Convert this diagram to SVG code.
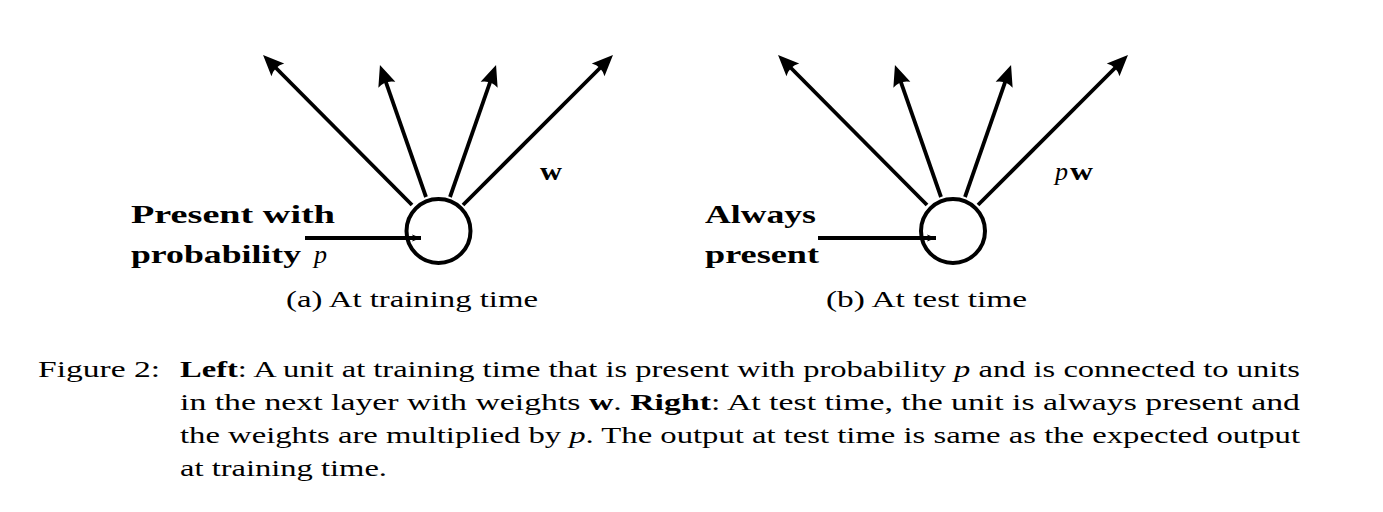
<svg xmlns="http://www.w3.org/2000/svg" width="1383" height="512" viewBox="0 0 1383 512">
  <style>
    .edge { stroke: #000; stroke-width: 3.8; fill: none; stroke-linecap: butt; }
    .inp { stroke: #000; stroke-width: 4; fill: none; }
    .unit { stroke: #000; stroke-width: 4; fill: none; }
    .t { font-family: "Liberation Serif", "DejaVu Serif", serif; fill: #000; }
    .b { font-weight: bold; }
    .i { font-style: italic; }
    .lbl { font-size: 26px; font-weight: bold; }
    .sub { font-size: 24px; }
    .cap { font-size: 24px; }
  </style>
  <defs>
    <marker id="ah" markerUnits="userSpaceOnUse" markerWidth="40" markerHeight="30" viewBox="-20 -15 40 30" refX="0" refY="0" orient="auto" overflow="visible">
      <path d="M12,0 L-9,-9 Q-4,0 -9,9 Z" fill="#000"/>
    </marker>
    <marker id="ahs" markerUnits="userSpaceOnUse" markerWidth="20" markerHeight="12" viewBox="-12 -6 20 12" refX="0" refY="0" orient="auto" overflow="visible">
      <path d="M0,0 L-9,-3.5 L-7,0 L-9,3.5 Z" fill="#000"/>
    </marker>
  </defs>

  <g id="connectors">
    <line class="edge" x1="412" y1="205" x2="271.5" y2="63.5" marker-end="url(#ah)"/>
    <line class="edge" x1="426" y1="197" x2="383.9" y2="76.3" marker-end="url(#ah)"/>
    <line class="edge" x1="450" y1="197" x2="492.1" y2="76.3" marker-end="url(#ah)"/>
    <line class="edge" x1="463" y1="205" x2="604.5" y2="63.5" marker-end="url(#ah)"/>
    <line class="inp" x1="305" y1="238" x2="421" y2="238" marker-end="url(#ahs)"/>

    <line class="edge" x1="927" y1="205" x2="786.5" y2="63.5" marker-end="url(#ah)"/>
    <line class="edge" x1="941" y1="197" x2="898.9" y2="76.3" marker-end="url(#ah)"/>
    <line class="edge" x1="965" y1="197" x2="1007.1" y2="76.3" marker-end="url(#ah)"/>
    <line class="edge" x1="978" y1="205" x2="1119.5" y2="63.5" marker-end="url(#ah)"/>
    <line class="inp" x1="818" y1="238" x2="936" y2="238" marker-end="url(#ahs)"/>
  </g>

  <g id="unit-train">
    <circle class="unit" cx="438.5" cy="231" r="32"/>
  </g>
  <g id="unit-test">
    <circle class="unit" cx="953" cy="231" r="32"/>
  </g>

  <g id="label-train">
    <text class="t lbl" x="131" y="223" textLength="204" lengthAdjust="spacingAndGlyphs">Present with</text>
    <text class="t lbl" x="131" y="263" textLength="170" lengthAdjust="spacingAndGlyphs">probability</text>
    <text class="t i" x="314" y="263" font-size="26">p</text>
    <text class="t b" x="540" y="180" font-size="26" textLength="22" lengthAdjust="spacingAndGlyphs">w</text>
    <text class="t sub" x="286" y="307" textLength="252" lengthAdjust="spacingAndGlyphs">(a) At training time</text>
  </g>

  <g id="label-test">
    <text class="t lbl" x="705" y="223" textLength="111" lengthAdjust="spacingAndGlyphs">Always</text>
    <text class="t lbl" x="705" y="263" textLength="114" lengthAdjust="spacingAndGlyphs">present</text>
    <text class="t" x="1055" y="180" font-size="26"><tspan class="i">p</tspan><tspan class="b" x="1070" textLength="23" lengthAdjust="spacingAndGlyphs">w</tspan></text>
    <text class="t sub" x="826" y="307" textLength="201" lengthAdjust="spacingAndGlyphs">(b) At test time</text>
  </g>

  <g id="caption">
    <text class="t cap" x="38" y="377" textLength="122" lengthAdjust="spacingAndGlyphs">Figure 2:</text>
    <text class="t cap" x="180" y="377" textLength="1120" lengthAdjust="spacingAndGlyphs"><tspan class="b">Left</tspan>: A unit at training time that is present with probability <tspan class="i">p</tspan> and is connected to units</text>
    <text class="t cap" x="180" y="410" textLength="1120" lengthAdjust="spacingAndGlyphs">in the next layer with weights <tspan class="b">w</tspan>. <tspan class="b">Right</tspan>: At test time, the unit is always present and</text>
    <text class="t cap" x="180" y="443" textLength="1120" lengthAdjust="spacingAndGlyphs">the weights are multiplied by <tspan class="i">p</tspan>. The output at test time is same as the expected output</text>
    <text class="t cap" x="180" y="476" textLength="207" lengthAdjust="spacingAndGlyphs">at training time.</text>
  </g>
</svg>
